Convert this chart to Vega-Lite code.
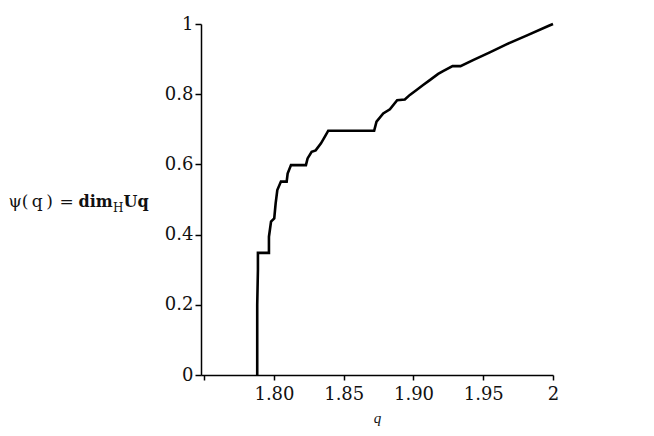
{
  "$schema": "https://vega.github.io/schema/vega-lite/v6.json",
  "width": 352,
  "height": 351,
  "autosize": {"type": "none"},
  "padding": {"left": 201, "top": 24, "right": 101, "bottom": 61},
  "background": "white",
  "title": {"text": "H", "anchor": "start", "frame": "group", "font": "DejaVu Serif", "fontSize": 12, "fontWeight": "normal", "color": "#111", "baseline": "alphabetic", "offset": 0, "dx": -88, "dy": 209},
  "config": {"view": {"stroke": null}},
  "data": {"values": [
    {"i": 0, "q": 1.7880, "v": 0},
    {"i": 1, "q": 1.7880, "v": 0.2},
    {"i": 2, "q": 1.7885, "v": 0.30},
    {"i": 3, "q": 1.7885, "v": 0.348},
    {"i": 4, "q": 1.7964, "v": 0.348},
    {"i": 5, "q": 1.7964, "v": 0.394},
    {"i": 6, "q": 1.7979, "v": 0.437},
    {"i": 7, "q": 1.8002, "v": 0.446},
    {"i": 8, "q": 1.8012, "v": 0.489},
    {"i": 9, "q": 1.8024, "v": 0.527},
    {"i": 10, "q": 1.8050, "v": 0.551},
    {"i": 11, "q": 1.8091, "v": 0.551},
    {"i": 12, "q": 1.8098, "v": 0.574},
    {"i": 13, "q": 1.8122, "v": 0.598},
    {"i": 14, "q": 1.8229, "v": 0.598},
    {"i": 15, "q": 1.8241, "v": 0.617},
    {"i": 16, "q": 1.8270, "v": 0.636},
    {"i": 17, "q": 1.8299, "v": 0.640},
    {"i": 18, "q": 1.8337, "v": 0.660},
    {"i": 19, "q": 1.8365, "v": 0.679},
    {"i": 20, "q": 1.8389, "v": 0.696},
    {"i": 21, "q": 1.8718, "v": 0.696},
    {"i": 22, "q": 1.8735, "v": 0.722},
    {"i": 23, "q": 1.8783, "v": 0.745},
    {"i": 24, "q": 1.8831, "v": 0.757},
    {"i": 25, "q": 1.8883, "v": 0.783},
    {"i": 26, "q": 1.8938, "v": 0.785},
    {"i": 27, "q": 1.8974, "v": 0.798},
    {"i": 28, "q": 1.9022, "v": 0.812},
    {"i": 29, "q": 1.9069, "v": 0.826},
    {"i": 30, "q": 1.9117, "v": 0.840},
    {"i": 31, "q": 1.9177, "v": 0.858},
    {"i": 32, "q": 1.9212, "v": 0.866},
    {"i": 33, "q": 1.9280, "v": 0.880},
    {"i": 34, "q": 1.9337, "v": 0.880},
    {"i": 35, "q": 1.9427, "v": 0.897},
    {"i": 36, "q": 1.9547, "v": 0.919},
    {"i": 37, "q": 1.9666, "v": 0.942},
    {"i": 38, "q": 1.9810, "v": 0.967},
    {"i": 39, "q": 1.9970, "v": 0.995},
    {"i": 40, "q": 2.0, "v": 1.0}
  ]},
  "resolve": {"axis": {"x": "independent", "y": "independent"}},
  "layer": [
    {
      "mark": {"type": "line", "color": "black", "strokeWidth": 2.6, "clip": false},
      "encoding": {
        "x": {"field": "q", "type": "quantitative", "scale": {"domain": [1.7477, 2.0], "nice": false, "zero": false},
          "axis": {"orient": "bottom", "values": [1.75, 1.8, 1.85, 1.9, 1.95, 2.0], "labelExpr": "datum.value > 1.999 ? '2' : datum.value < 1.76 ? '' : format(datum.value, '.2f')",
            "grid": false, "domainColor": "black", "domainWidth": 1.5, "tickColor": "black", "tickWidth": 1.5, "tickSize": 5,
            "labelFont": "DejaVu Serif", "labelFontSize": 18, "labelColor": "#111", "labelPadding": 5, "labelFlush": false, "labelOverlap": false,
            "title": "q", "titleFont": "Liberation Serif", "titleFontStyle": "italic", "titleFontWeight": "normal", "titleFontSize": 15, "titleColor": "#111", "titlePadding": 7}},
        "y": {"field": "v", "type": "quantitative", "scale": {"domain": [0, 1], "nice": false},
          "axis": {"orient": "left", "values": [0, 0.2, 0.4, 0.6, 0.8, 1], "labelExpr": "datum.value == 0 ? '0' : datum.value == 1 ? '1' : format(datum.value, '.1f')",
            "grid": false, "domainColor": "black", "domainWidth": 1.5, "tickColor": "black", "tickWidth": 1.5, "tickSize": 6,
            "labelFont": "DejaVu Serif", "labelFontSize": 18, "labelColor": "#111", "labelPadding": 2, "labelFlush": false, "labelOverlap": false,
            "title": "ψ(\u2009q\u2009)\u2009\u2009=", "titleFont": "DejaVu Serif", "titleFontWeight": "normal", "titleFontSize": 17, "titleColor": "#111", "titleAngle": 0, "titleAlign": "left", "titleBaseline": "alphabetic", "titleX": -193, "titleY": 182}},
        "order": {"field": "i", "type": "quantitative"}
      }
    },
    {
      "mark": {"type": "line", "opacity": 0},
      "encoding": {
        "x": {"field": "q", "type": "quantitative", "axis": {"orient": "top", "domain": false, "ticks": false, "labels": false, "grid": false,
          "title": "dim", "titleFont": "DejaVu Serif", "titleFontWeight": "bold", "titleFontSize": 16, "titleColor": "#111", "titleAngle": 0, "titleAlign": "left", "titleBaseline": "alphabetic", "titleX": -123, "titleY": 182}},
        "y": {"field": "v", "type": "quantitative", "axis": null},
        "order": {"field": "i", "type": "quantitative"}
      }
    },
    {
      "mark": {"type": "line", "opacity": 0},
      "encoding": {
        "x": {"field": "q", "type": "quantitative", "axis": null},
        "y": {"field": "v", "type": "quantitative", "axis": {"orient": "right", "domain": false, "ticks": false, "labels": false, "grid": false,
          "title": "Uq", "titleFont": "DejaVu Serif", "titleFontWeight": "bold", "titleFontSize": 16, "titleColor": "#111", "titleAngle": 0, "titleAlign": "left", "titleBaseline": "alphabetic", "titleX": -430, "titleY": 182}},
        "order": {"field": "i", "type": "quantitative"}
      }
    }
  ]
}
